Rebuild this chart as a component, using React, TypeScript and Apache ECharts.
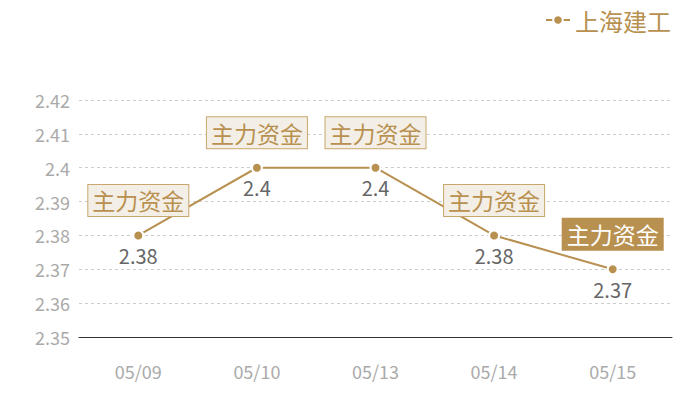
import { useEffect, useRef } from "react";
import * as echarts from "echarts";

const categories = ["05/09", "05/10", "05/13", "05/14", "05/15"];
const prices = [2.38, 2.4, 2.4, 2.38, 2.37];
const tagText = "主力资金";
const seriesName = "上海建工";

const GOLD = "#b8904f";
const FONT = "'Noto Sans CJK SC', 'Noto Sans', sans-serif";

export default function App() {
  const ref = useRef<HTMLDivElement | null>(null);

  useEffect(() => {
    if (!ref.current) return;
    const chart = echarts.init(ref.current, undefined, { renderer: "svg" });

    const lastIndex = prices.length - 1;

    chart.setOption({
      animation: false,
      textStyle: { fontFamily: FONT },
      legend: {
        data: [seriesName],
        right: 24,
        top: 3,
        itemWidth: 24,
        itemHeight: 12,
        itemGap: 9,
        textStyle: { color: GOLD, fontSize: 24, fontFamily: FONT },
      },
      grid: { left: 79, right: 28, top: 100, bottom: 63 },
      xAxis: {
        type: "category",
        data: categories,
        axisLine: { lineStyle: { color: "#333", width: 1 } },
        axisTick: { show: false },
        axisLabel: { color: "#aaa", fontSize: 18, margin: 25, fontFamily: FONT },
      },
      yAxis: {
        type: "value",
        min: 2.35,
        max: 2.42,
        interval: 0.01,
        axisLine: { show: false },
        axisTick: { show: false },
        axisLabel: { color: "#aaa", fontSize: 18, margin: 9, fontFamily: FONT },
        splitLine: { lineStyle: { color: "#ccc", type: [3, 3] } },
      },
      series: [
        {
          name: seriesName,
          type: "line",
          data: prices,
          symbol: "circle",
          symbolSize: 10,
          itemStyle: { color: GOLD, borderColor: "#fff", borderWidth: 2 },
          lineStyle: { color: GOLD, width: 2 },
          label: {
            show: true,
            position: "bottom",
            distance: 4,
            color: "#666",
            fontSize: 20,
            fontFamily: FONT,
          },
        },
        {
          name: tagText,
          type: "line",
          data: prices.map((v, i) =>
            i === lastIndex
              ? {
                  value: v,
                  label: {
                    backgroundColor: GOLD,
                    color: "#fff",
                    borderColor: GOLD,
                  },
                }
              : v
          ),
          symbol: "circle",
          symbolSize: 1,
          showSymbol: true,
          itemStyle: { color: "rgba(0,0,0,0)" },
          lineStyle: { opacity: 0 },
          silent: true,
          z: 5,
          label: {
            show: true,
            position: "top",
            distance: 19,
            formatter: tagText,
            color: GOLD,
            fontSize: 23,
            lineHeight: 25,
            fontFamily: FONT,
            backgroundColor: "#f4efe6",
            borderColor: "#c9a66b",
            borderWidth: 1,
            padding: [3, 4],
          },
        },
      ],
    });

    return () => chart.dispose();
  }, []);

  return <div ref={ref} style={{ width: 700, height: 400, margin: -8 }} />;
}
